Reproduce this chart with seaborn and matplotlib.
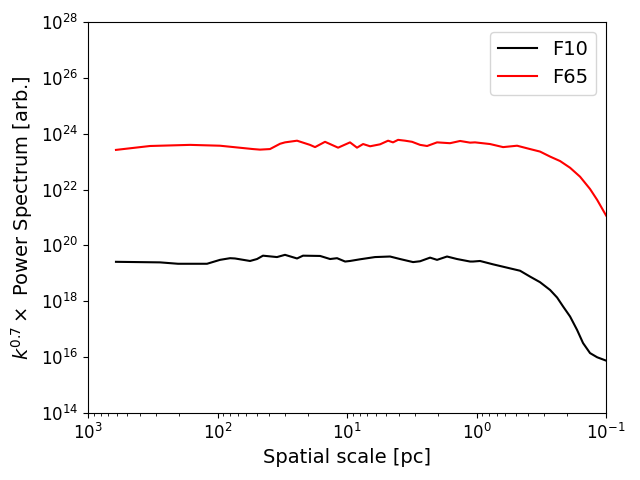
import numpy as np
import pandas as pd
import matplotlib
matplotlib.use("Agg")
import matplotlib.pyplot as plt
import matplotlib.ticker as mticker
import seaborn as sns

# log10 of spatial scale [pc] and log10 of k^0.7 x power spectrum
f65_logscale = [2.784, 2.521, 2.212, 1.981, 1.726, 1.672, 1.595, 1.517, 1.479, 1.386,
                1.286, 1.247, 1.170, 1.069, 0.977, 0.923, 0.876, 0.822, 0.745, 0.683,
                0.645, 0.606, 0.552, 0.498, 0.436, 0.382, 0.305, 0.205, 0.127, 0.050,
                0.012, -0.104, -0.205, -0.313, -0.413, -0.490, -0.568, -0.645, -0.722,
                -0.799, -0.876, -0.931, -1.0]
f65_logpower = [23.42, 23.56, 23.60, 23.57, 23.45, 23.43, 23.45, 23.64, 23.69, 23.75,
                23.60, 23.52, 23.71, 23.50, 23.69, 23.50, 23.63, 23.55, 23.62, 23.75,
                23.69, 23.78, 23.75, 23.71, 23.60, 23.56, 23.69, 23.66, 23.74, 23.68,
                23.69, 23.63, 23.52, 23.57, 23.45, 23.36, 23.18, 23.02, 22.78,
                22.46, 22.02, 21.63, 21.07]

f10_logscale = [2.784, 2.444, 2.305, 2.081, 1.981, 1.903, 1.865, 1.749, 1.695, 1.649,
                1.541, 1.479, 1.386, 1.340, 1.208, 1.131, 1.077, 1.015, 0.977, 0.900,
                0.784, 0.668, 0.591, 0.490, 0.436, 0.359, 0.305, 0.228, 0.151, 0.050,
                0.027, -0.027, -0.127, -0.236, -0.336, -0.413, -0.490, -0.568, -0.622,
                -0.668, -0.722, -0.776, -0.822, -0.876, -0.931, -1.0]
f10_logpower = [19.41, 19.39, 19.34, 19.34, 19.48, 19.54, 19.53, 19.44, 19.51, 19.63,
                19.58, 19.66, 19.53, 19.63, 19.62, 19.51, 19.54, 19.42, 19.44, 19.50,
                19.58, 19.60, 19.51, 19.40, 19.43, 19.56, 19.48, 19.60, 19.51, 19.42,
                19.42, 19.44, 19.32, 19.20, 19.09, 18.88, 18.68, 18.40, 18.13,
                17.81, 17.45, 16.97, 16.50, 16.14, 15.99, 15.87]

series_names = ["F10", "F65"]
series_colors = ["black", "red"]

df = pd.concat([
    pd.DataFrame({"scale": 10.0 ** np.array(f10_logscale),
                  "power": 10.0 ** np.array(f10_logpower), "run": "F10"}),
    pd.DataFrame({"scale": 10.0 ** np.array(f65_logscale),
                  "power": 10.0 ** np.array(f65_logpower), "run": "F65"}),
], ignore_index=True)

fig, ax = plt.subplots(figsize=(6.4, 4.8), dpi=100)
sns.lineplot(data=df, x="scale", y="power", hue="run", hue_order=series_names,
             palette=dict(zip(series_names, series_colors)), sort=False,
             estimator=None, linewidth=1.5, ax=ax)

ax.set_xscale("log")
ax.set_yscale("log")
ax.set_xlim(1e3, 1e-1)
ax.set_ylim(1e14, 1e28)
ax.yaxis.set_major_locator(mticker.FixedLocator([10.0 ** e for e in range(14, 29, 2)]))
ax.yaxis.set_minor_locator(mticker.NullLocator())
ax.tick_params(labelsize=12)
ax.set_xlabel("Spatial scale [pc]", fontsize=14)
ax.set_ylabel(r"$k^{0.7}\times$ Power Spectrum [arb.]", fontsize=14)
ax.legend(loc="upper right", fontsize=14, title=None)

fig.subplots_adjust(left=0.1375, right=0.947, top=0.954, bottom=0.14)
fig.savefig("out.png", dpi=100)
